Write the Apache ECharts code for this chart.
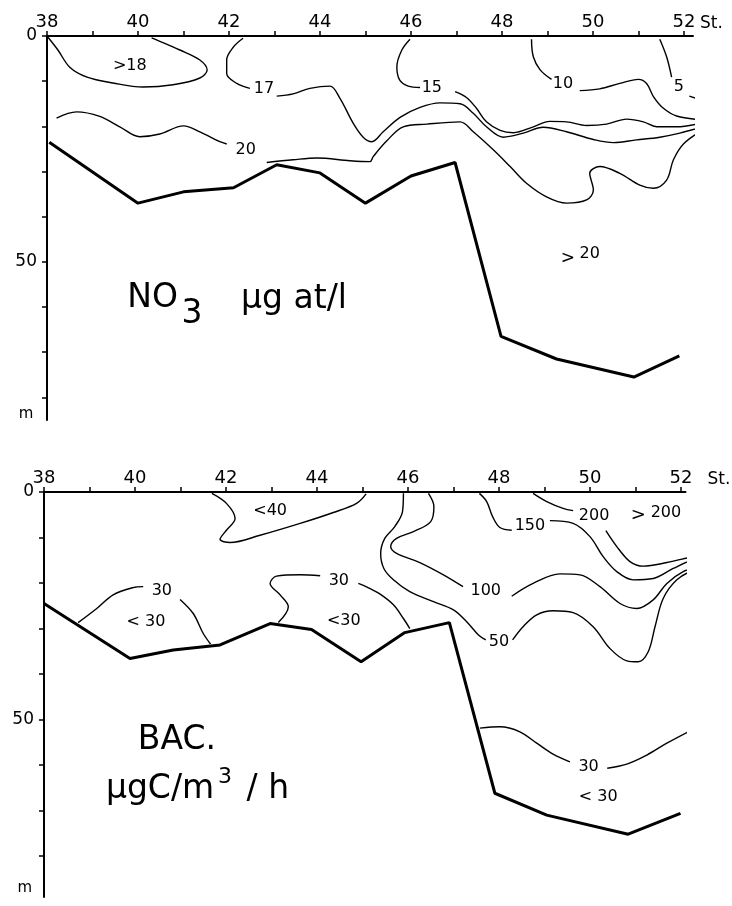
<!DOCTYPE html>
<html>
<head>
<meta charset="utf-8">
<script src="https://cdn.jsdelivr.net/npm/echarts@6/dist/echarts.min.js"></script>
<style>
  html, body { margin: 0; padding: 0; background: #fff; }
  #main { width: 732px; height: 906px; }
</style>
</head>
<body>
<div id="main"></div>
<script>
// station numbers that carry a label on the top axis
const stationLabels = [38, 40, 42, 44, 46, 48, 50, 52];
const depthLabels = [0, 50];

// ---- NO3 section, [station, depth m] ----
const no3Bottom = [[38.05, 23.5], [40, 37], [41, 34.5], [42.1, 33.6], [43.05, 28.5], [44, 30.3], [45, 37], [46, 31], [46.97, 28], [47.98, 66.5], [49.2, 71.5], [50.9, 75.5], [51.9, 70.8]];
const no3Gt18 = [[38.0, 0], [38.24, 3.1], [38.5, 6.9], [38.88, 9.1], [39.45, 10.4], [40.11, 11.3], [40.77, 10.8], [41.36, 9.3], [41.52, 7.5], [41.36, 5.3], [40.92, 3.1], [40.42, 0.9], [40.3, 0.4]];
const no3Iso17a = [[42.31, 0.5], [42.1, 2.4], [41.95, 5.3], [41.95, 8.3], [42.17, 10.5], [42.46, 11.6]];
const no3Iso17b = [[43.05, 13.3], [43.41, 12.8], [43.78, 11.6], [44.22, 11.1], [44.44, 13.8], [44.73, 19.3], [44.95, 22.4], [45.14, 23.4], [45.39, 21.2], [45.76, 18.0], [46.2, 15.8], [46.64, 14.8], [47.08, 15.0], [47.37, 17.1], [47.66, 20.1], [48.03, 22.4], [48.47, 21.5], [48.91, 20.2], [49.42, 21.2], [50.01, 22.9], [50.45, 23.6], [50.96, 23.0], [51.47, 22.4], [51.91, 21.5], [52.42, 20.1]];
const no3Iso15a = [[45.98, 0.7], [45.8, 3.1], [45.69, 6.8], [45.75, 9.7], [45.94, 11.1], [46.2, 11.4]];
const no3Iso15b = [[46.97, 12.3], [47.22, 13.6], [47.44, 16.0], [47.66, 19.0], [47.96, 20.9], [48.25, 21.4], [48.69, 20.1], [49.05, 18.9], [49.42, 19.0], [49.86, 19.8], [50.3, 19.5], [50.74, 18.4], [51.11, 19.0], [51.4, 20.1], [51.84, 20.1], [52.42, 19.2]];
const no3Iso10a = [[48.65, 0.7], [48.69, 4.6], [48.84, 7.5], [49.09, 9.6]];
const no3Iso10b = [[49.71, 12.1], [50.15, 11.7], [50.59, 10.5], [51.0, 9.6], [51.18, 10.5], [51.33, 13.4], [51.55, 16.0], [51.84, 17.7], [52.42, 18.6]];
const no3Iso5a = [[51.47, 0.7], [51.62, 4.6], [51.73, 9.1]];
const no3Iso5b = [[52.12, 13.3], [52.42, 14.3]];
const no3Iso20a = [[38.21, 18.2], [38.65, 16.8], [39.16, 17.8], [39.6, 20.1], [40.04, 22.3], [40.48, 21.7], [41.0, 19.9], [41.36, 21.2], [41.8, 23.4], [41.95, 23.9]];
const no3Iso20b = [[42.83, 28.0], [43.41, 27.4], [43.93, 27.0], [44.66, 27.6], [45.1, 27.8], [45.17, 26.7], [45.47, 23.2], [45.83, 20.1], [46.35, 19.5], [47.08, 19.0], [47.37, 21.2], [47.81, 25.2], [48.18, 28.9], [48.54, 32.6], [48.98, 35.6], [49.42, 37.0], [49.86, 36.3], [50.01, 34.1], [49.93, 30.4], [50.15, 28.9], [50.59, 30.4], [51.03, 33.0], [51.33, 33.7], [51.62, 31.9], [51.77, 27.4], [51.99, 23.9], [52.42, 20.8]];
// [station, depth, text, font size]
const no3Labels = [
  [39.82, 6.6, '>18', 16], [42.77, 11.7, '17', 16], [42.37, 25.2, '20', 16],
  [46.46, 11.4, '15', 16], [49.34, 10.6, '10', 16], [51.89, 11.3, '5', 16],
  [49.45, 49.2, '>', 17], [49.93, 48.2, '20', 16],
  [40.32, 58.1, 'NO', 33], [41.19, 61.6, '3', 33], [43.43, 58.4, 'µg at/l', 33],
  [37.54, 83.6, 'm', 15]
];

// ---- bacterial production section ----
const bacBottom = [[38.0, 24.5], [39.89, 36.6], [40.84, 34.7], [41.87, 33.6], [42.97, 28.9], [43.88, 30.2], [44.97, 37.3], [45.93, 30.9], [46.91, 28.7], [47.91, 66.2], [49.05, 71.0], [50.84, 75.2], [51.99, 70.6]];
const bacLt40 = [[41.69, 0.3], [42.01, 2.5], [42.2, 5.8], [42.01, 8.4], [41.87, 10.4], [42.09, 11.1], [42.75, 9.5], [43.63, 6.9], [44.36, 4.5], [44.87, 2.5], [45.08, 0.4]];
const bacIso30a1 = [[38.75, 28.7], [39.16, 25.6], [39.52, 22.6], [39.96, 21.0], [40.18, 20.8]];
const bacIso30a2 = [[40.99, 23.6], [41.28, 26.7], [41.5, 31.1], [41.66, 33.4]];
const bacIso30b1 = [[43.15, 28.7], [43.37, 25.2], [43.19, 22.6], [42.97, 20.1], [43.11, 18.5], [43.63, 18.2], [44.07, 18.4]];
const bacIso30b2 = [[44.91, 20.1], [45.1, 20.9], [45.38, 22.4], [45.68, 24.8], [45.9, 27.8], [46.04, 30.0]];
const bacIso50a = [[45.9, 0.3], [45.88, 4.3], [45.71, 7.6], [45.49, 10.2], [45.4, 13.5], [45.47, 16.8], [45.68, 19.3], [46.04, 21.9], [46.56, 24.1], [47.0, 25.9], [47.29, 28.5], [47.55, 31.4], [47.71, 32.5]];
const bacIso50b = [[48.3, 32.5], [48.53, 29.6], [48.83, 27.0], [49.19, 26.1], [49.63, 26.5], [50.07, 29.6], [50.44, 34.4], [50.81, 37.1], [51.06, 37.3], [51.28, 35.1], [51.43, 29.6], [51.61, 23.4], [51.91, 19.3], [52.27, 17.3], [52.95, 16.0]];
const bacIso100a = [[46.45, 0.3], [46.57, 3.2], [46.5, 6.5], [46.12, 8.7], [45.75, 10.2], [45.62, 12.0], [45.75, 13.5], [46.26, 15.5], [46.78, 18.2], [47.21, 20.8]];
const bacIso100b = [[48.28, 22.9], [48.75, 20.1], [49.34, 18.0], [49.78, 18.2], [50.22, 20.8], [50.66, 24.5], [51.03, 25.6], [51.39, 23.7], [51.69, 20.1], [52.05, 17.5], [52.42, 16.4], [52.97, 15.3]];
const bacIso150a = [[47.57, 0.3], [47.73, 2.1], [47.86, 5.4], [48.02, 7.8], [48.28, 8.4]];
const bacIso150b = [[49.12, 6.3], [49.63, 6.9], [50.0, 9.8], [50.29, 14.2], [50.59, 17.5], [50.95, 19.3], [51.39, 19.0], [51.83, 16.8], [52.27, 14.9], [52.89, 13.8]];
const bacIso200a = [[48.75, 0.3], [49.05, 2.1], [49.41, 3.6], [49.63, 4.1]];
const bacIso200b = [[50.35, 8.5], [50.59, 12.0], [50.88, 15.3], [51.17, 16.3], [51.69, 15.5], [52.27, 14.2], [52.82, 13.1]];
const bacIso30c1 = [[47.58, 51.9], [48.02, 51.6], [48.46, 52.7], [48.83, 55.2], [49.19, 57.6], [49.56, 59.3]];
const bacIso30c2 = [[50.38, 60.7], [50.81, 59.8], [51.25, 57.8], [51.69, 55.2], [52.16, 52.7]];
const bacLabels = [
  [42.97, 4.2, '<40', 16], [40.59, 21.8, '30', 16], [40.24, 28.5, '< 30', 16],
  [44.48, 19.6, '30', 16], [44.59, 28.4, '<30', 16],
  [48.68, 7.5, '150', 16], [50.09, 5.3, '200', 16], [51.06, 5.1, '>', 18], [51.67, 4.5, '200', 16],
  [47.71, 21.8, '100', 16], [48.0, 32.9, '50', 16],
  [49.97, 60.4, '30', 16], [50.18, 67.0, '< 30', 16],
  [40.92, 54.7, 'BAC.', 33], [40.55, 65.3, 'µgC/m', 33], [41.98, 62.6, '3', 22], [42.92, 65.3, '/ h', 33],
  [37.58, 87.0, 'm', 15]
];

const FONT = 'DejaVu Sans';
const INK = '#000';

function contour(data, idx) {
  return {
    type: 'line', xAxisIndex: idx, yAxisIndex: idx, data: data,
    smooth: 0.35, symbol: 'none', clip: false, silent: true,
    lineStyle: { color: INK, width: 1.4 }
  };
}
function bottom(data, idx) {
  return {
    type: 'line', xAxisIndex: idx, yAxisIndex: idx, data: data,
    symbol: 'none', clip: false, silent: true,
    lineStyle: { color: INK, width: 3 }
  };
}
function labels(list, idx) {
  return {
    type: 'scatter', xAxisIndex: idx, yAxisIndex: idx, symbolSize: 0, clip: false, silent: true,
    itemStyle: { opacity: 1, color: INK },
    data: list.map(l => ({
      value: [l[0], l[1]], name: l[2],
      label: { fontSize: l[3] }
    })),
    label: {
      show: true, position: 'inside', formatter: '{b}', color: INK, opacity: 1,
      textBorderWidth: 0, fontFamily: FONT
    }
  };
}
function xAxis(idx, max, gap) {
  return {
    type: 'value', gridIndex: idx, position: 'top', min: 38, max: max, interval: 1,
    name: 'St.', nameLocation: 'end', nameGap: gap,
    nameTextStyle: { color: INK, fontSize: 17, fontFamily: FONT, verticalAlign: 'bottom', padding: [0, 0, 4, 0] },
    axisLine: { lineStyle: { color: INK, width: 2 } },
    axisTick: { show: true, length: 5, lineStyle: { color: INK, width: 1.5 } },
    axisLabel: {
      color: INK, fontSize: 18, fontFamily: FONT, margin: 5, showMaxLabel: false,
      formatter: v => stationLabels.includes(v) ? String(v) : ''
    },
    splitLine: { show: false }
  };
}
function yAxis(idx, max) {
  return {
    type: 'value', gridIndex: idx, inverse: true, min: 0, max: max, interval: 10,
    axisLine: { lineStyle: { color: INK, width: 2 } },
    axisTick: { show: true, length: 5, lineStyle: { color: INK, width: 1.5 } },
    axisLabel: {
      color: INK, fontSize: 17, fontFamily: FONT, margin: 10, showMaxLabel: false,
      formatter: v => depthLabels.includes(v) ? String(v) : ''
    },
    splitLine: { show: false }
  };
}

const chart = echarts.init(document.getElementById('main'));
chart.setOption({
  backgroundColor: '#fff',
  animation: false,
  grid: [
    { left: 47, top: 36, width: 646, height: 384 },
    { left: 44, top: 492, width: 641.5, height: 405 }
  ],
  xAxis: [xAxis(0, 52.2, 7), xAxis(1, 52.1, 22)],
  yAxis: [yAxis(0, 85), yAxis(1, 89)],
  series: [
    bottom(no3Bottom, 0),
    contour(no3Gt18, 0), contour(no3Iso17a, 0), contour(no3Iso17b, 0),
    contour(no3Iso15a, 0), contour(no3Iso15b, 0),
    contour(no3Iso10a, 0), contour(no3Iso10b, 0),
    contour(no3Iso5a, 0), contour(no3Iso5b, 0),
    contour(no3Iso20a, 0), contour(no3Iso20b, 0),
    labels(no3Labels, 0),
    bottom(bacBottom, 1),
    contour(bacLt40, 1), contour(bacIso30a1, 1), contour(bacIso30a2, 1),
    contour(bacIso30b1, 1), contour(bacIso30b2, 1),
    contour(bacIso50a, 1), contour(bacIso50b, 1),
    contour(bacIso100a, 1), contour(bacIso100b, 1),
    contour(bacIso150a, 1), contour(bacIso150b, 1),
    contour(bacIso200a, 1), contour(bacIso200b, 1),
    contour(bacIso30c1, 1), contour(bacIso30c2, 1),
    labels(bacLabels, 1)
  ]
});
</script>
</body>
</html>
